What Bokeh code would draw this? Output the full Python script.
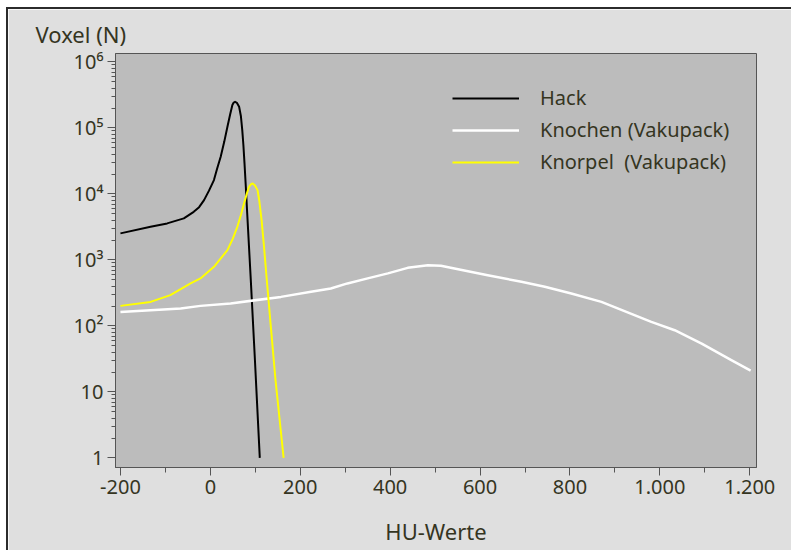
from bokeh.plotting import figure
from bokeh.models import FixedTicker, Column
from bokeh.embed import file_html
from bokeh.resources import INLINE

# ---- data ----
hu_hack = [-200, -133, -96, -59, -37, -25, -14, -3, 8, 15, 23, 31, 38, 44, 49, 52, 55, 59,
           64, 68, 71, 73.5, 76, 79, 82, 90, 99, 110]
voxel_hack = [2520, 3170, 3570, 4250, 5350, 6300, 8050, 11200, 16200, 24000, 36500, 62000,
              104000, 160000, 222000, 242000, 249000, 240000, 209000, 150000, 92700, 55000,
              29000, 12500, 5060, 493, 32, 1]

hu_knochen = [-200, -133, -66, -22, 45, 157, 224, 268, 305, 350, 395, 439, 484, 513, 543,
              617, 692, 744, 803, 870, 981, 1033, 1093, 1160, 1202]
voxel_knochen = [163, 173, 184, 201, 219, 275, 328, 369, 440, 524, 624, 758, 832, 813, 742,
                 587, 465, 391, 310, 231, 115, 86, 54, 30, 21]

hu_knorpel = [-200, -133, -89, -44, -22, 8, 38, 50, 60, 68, 75, 81, 86, 90, 94, 99, 105,
              109, 114, 119, 125, 135, 145, 163]
voxel_knorpel = [201, 231, 293, 440, 524, 785, 1406, 2100, 3170, 4800, 7180, 10000, 12800,
                 13900, 14400, 13500, 11400, 7800, 4010, 1700, 550, 90, 15, 1]

series_names = ["Hack", "Knochen (Vakupack)", "Knorpel  (Vakupack)"]

x_ticks = [-200, 0, 200, 400, 600, 800, 1000, 1200]
x_tick_labels = ["-200", "0", "200", "400", "600", "800", "1.000", "1.200"]
y_ticks = [1, 10, 100, 1000, 10000, 100000, 1000000]
y_tick_labels = ["1", "10", "10\u00b2", "10\u00b3", "10\u2074", "10\u2075", "10\u2076"]

x_title = "HU-Werte"
y_title = "Voxel (N)"

# ---- styling ----
FONT = "Noto Sans"
TXT = "#35351f"
AX = "#555555"

p = figure(width=783, height=541, x_range=(-211, 1215), y_range=(0.715, 1.34e6),
           y_axis_type="log", output_backend="svg", toolbar_location=None,
           min_border_left=107, min_border_right=35, min_border_top=44,
           min_border_bottom=83)
p.border_fill_color = "#dfdfdf"
p.background_fill_color = "#bcbcbc"
p.outline_line_color = AX
p.xgrid.visible = False
p.ygrid.visible = False

p.title.text = y_title
p.title.align = "left"
p.title.offset = -80
p.title.text_font = FONT
p.title.text_font_size = "22px"
p.title.text_font_style = "normal"
p.title.text_color = TXT
p.title.standoff = 9

xminor = [(a + b) / 2 for a, b in zip(x_ticks[:-1], x_ticks[1:])]
yminor = [d * k for d in y_ticks[:-1] for k in range(2, 10)]

xa = p.xaxis[0]
ya = p.yaxis[0]
xa.ticker = FixedTicker(ticks=x_ticks, minor_ticks=xminor)
ya.ticker = FixedTicker(ticks=y_ticks, minor_ticks=yminor)
xa.major_label_overrides = dict(zip(x_ticks, x_tick_labels))
ya.major_label_overrides = dict(zip(y_ticks, y_tick_labels))

for ax in (xa, ya):
    ax.axis_line_color = AX
    ax.major_tick_line_color = AX
    ax.minor_tick_line_color = AX
    ax.major_tick_in = 0
    ax.minor_tick_in = 0
    ax.major_tick_out = 8
    ax.major_label_text_font = FONT
    ax.major_label_text_font_size = "20px"
    ax.major_label_text_color = TXT
    ax.major_label_standoff = 4
xa.minor_tick_out = 5
ya.minor_tick_out = 4

xa.axis_label = x_title
xa.axis_label_text_font = FONT
xa.axis_label_text_font_size = "22px"
xa.axis_label_text_font_style = "normal"
xa.axis_label_text_color = TXT
xa.axis_label_standoff = 19

p.line(hu_hack, voxel_hack, line_color="#000000", line_width=2, line_join="round",
       legend_label=series_names[0])
p.line(hu_knochen, voxel_knochen, line_color="#ffffff", line_width=2.5, line_join="round",
       legend_label=series_names[1])
p.line(hu_knorpel, voxel_knorpel, line_color="#ffff00", line_width=2, line_join="round",
       legend_label=series_names[2])

lg = p.legend[0]
lg.location = (337, 292)
lg.padding = 0
lg.margin = 0
lg.spacing = 5
lg.glyph_width = 67
lg.glyph_height = 20
lg.label_height = 20
lg.label_standoff = 21
lg.label_text_font = FONT
lg.label_text_font_size = "20px"
lg.label_text_color = TXT
lg.border_line_alpha = 0
lg.background_fill_alpha = 0

layout = Column(children=[p], margin=(7, 0, 0, 6),
                styles={"border-top": "2px solid #2b2b2b", "border-left": "2px solid #2b2b2b"})

open("out.html", "w").write(file_html(layout, INLINE))
